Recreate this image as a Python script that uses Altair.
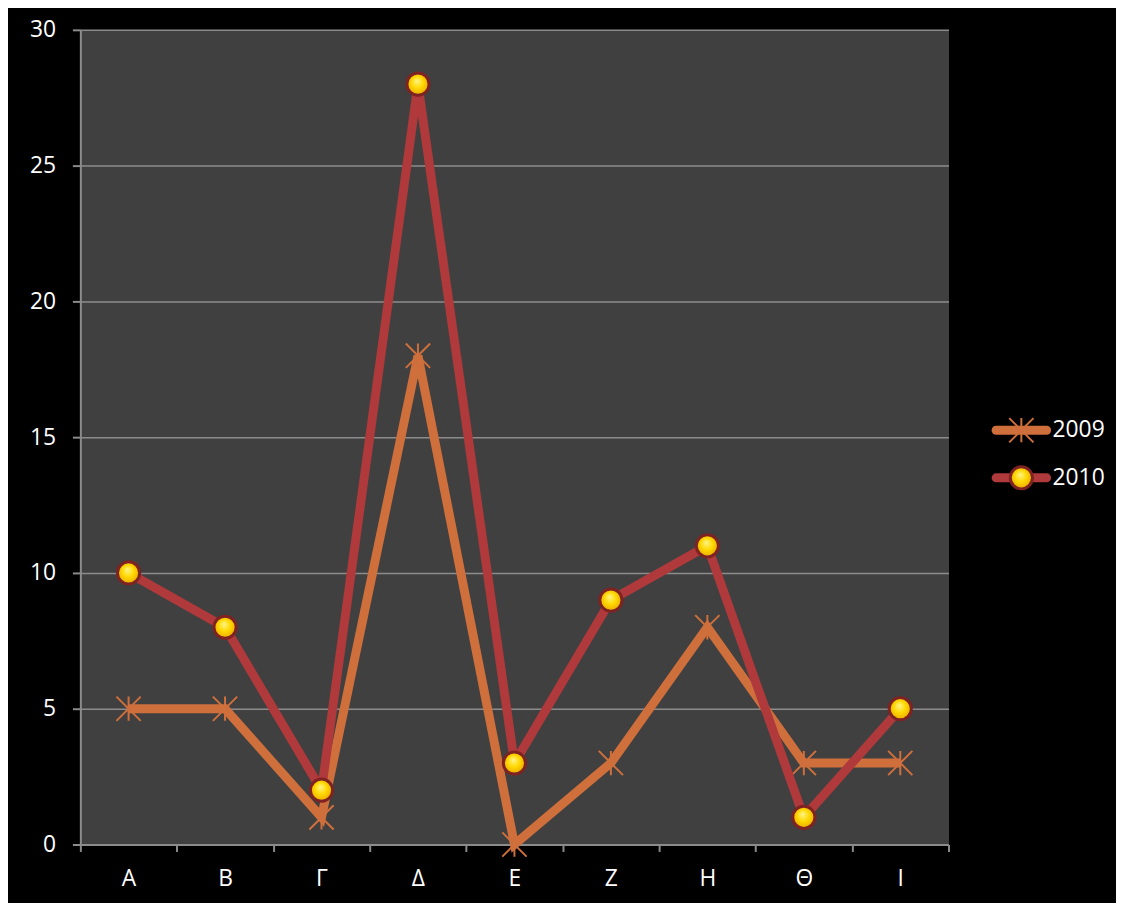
import altair as alt
import pandas as pd

categories = ["Α", "Β", "Γ", "Δ", "Ε", "Ζ", "Η", "Θ", "Ι"]
series = ["2009", "2010"]
values_2009 = [5, 5, 1, 18, 0, 3, 8, 3, 3]
values_2010 = [10, 8, 2, 28, 3, 9, 11, 1, 5]
y_ticks = [0, 5, 10, 15, 20, 25, 30]

line_colors = ["#CF6F3C", "#B0393B"]
FONT = "Open Sans"
FS = 23

rows = []
for s, vals in zip(series, [values_2009, values_2010]):
    for c, v in zip(categories, vals):
        rows.append({"category": c, "series": s, "value": v})
df = pd.DataFrame(rows)

color_scale = alt.Scale(domain=series, range=line_colors)
star_path = "M0,-1L0,1M-1,-1L1,1M-1,1L1,-1"
ball = alt.RadialGradient(
    gradient="radial",
    stops=[
        alt.GradientStop(offset=0, color="#FFF48A"),
        alt.GradientStop(offset=0.45, color="#FFD800"),
        alt.GradientStop(offset=1, color="#E39A00"),
    ],
    x1=0.45, y1=0.35, x2=0.5, y2=0.5, r1=0, r2=0.6,
)

x_enc = alt.X(
    "category:N",
    sort=categories,
    bandPosition=0.5,
    scale=alt.Scale(type="band", domain=categories, paddingInner=0, paddingOuter=0),
    axis=alt.Axis(
        title=None, labelAngle=0, tickBand="extent", grid=False,
        domainColor="#8C8C8C", domainWidth=2, tickColor="#8C8C8C", tickWidth=2,
        tickSize=7, labelColor="white", labelFont=FONT, labelFontSize=FS,
        labelPadding=16,
    ),
)
y_enc = alt.Y(
    "value:Q",
    scale=alt.Scale(domain=[0, 30], nice=False),
    axis=alt.Axis(
        title=None, values=y_ticks, grid=True, gridColor="#8C8C8C", gridWidth=1.5,
        domainColor="#8C8C8C", domainWidth=2, tickColor="#8C8C8C", tickWidth=2,
        tickSize=8, labelColor="white", labelFont=FONT, labelFontSize=FS,
        labelPadding=17,
    ),
)
col_enc = alt.Color("series:N", scale=color_scale, legend=None)

base = alt.Chart(df).encode(x=x_enc, y=y_enc)

line09 = base.transform_filter(alt.datum.series == series[0]).mark_line(
    strokeWidth=9).encode(color=col_enc)
star09 = base.transform_filter(alt.datum.series == series[0]).mark_point(
    shape=star_path, size=600, filled=False, stroke=line_colors[0], strokeWidth=2, opacity=1)
line10 = base.transform_filter(alt.datum.series == series[1]).mark_line(
    strokeWidth=9).encode(color=col_enc)
ball10 = base.transform_filter(alt.datum.series == series[1]).mark_point(
    shape="circle", size=500, filled=True, fill=ball, stroke="#7E2222",
    strokeWidth=3, opacity=1)

main = alt.layer(line09, star09, line10, ball10).properties(
    width=876, height=822,
    view=alt.ViewBackground(fill="#404040", stroke="transparent"),
)

# legend panel
leg_df = pd.DataFrame({"series": series, "x0": [0, 0], "x1": [1, 1], "xm": [0.5, 0.5]})
ly = alt.Y("series:N", scale=alt.Scale(type="point", domain=series, range=[404, 452], padding=0), axis=None)
lbase = alt.Chart(leg_df).encode(y=ly)
lx_scale = alt.Scale(domain=[0, 1], nice=False, zero=False)
leg_rule = lbase.mark_rule(strokeWidth=9, strokeCap="round").encode(
    x=alt.X("x0:Q", scale=lx_scale, axis=None), x2="x1:Q", color=col_enc)
leg_star = lbase.transform_filter(alt.datum.series == series[0]).mark_point(
    shape=star_path, size=600, filled=False, stroke=line_colors[0], strokeWidth=2, opacity=1
).encode(x=alt.X("xm:Q", scale=lx_scale, axis=None))
leg_ball = lbase.transform_filter(alt.datum.series == series[1]).mark_point(
    shape="circle", size=500, filled=True, fill=ball, stroke="#7E2222",
    strokeWidth=3, opacity=1
).encode(x=alt.X("xm:Q", scale=lx_scale, axis=None))
leg_text = lbase.mark_text(align="left", baseline="middle", dx=6, color="white",
                           font=FONT, fontSize=FS).encode(
    x=alt.X("x1:Q", scale=lx_scale, axis=None), text="series:N")
legend = alt.layer(leg_rule, leg_star, leg_ball, leg_text).properties(
    width=51, height=822,
    view=alt.ViewBackground(stroke="transparent"),
)

chart = alt.hconcat(main, legend, spacing=41).resolve_scale(x="independent", y="independent").properties(
    background="black",
    padding={"left": 21, "top": 6, "right": 10, "bottom": 8},
).configure_view(stroke="transparent")

chart.save("out.html", embed_options={"renderer": "svg", "actions": False})
